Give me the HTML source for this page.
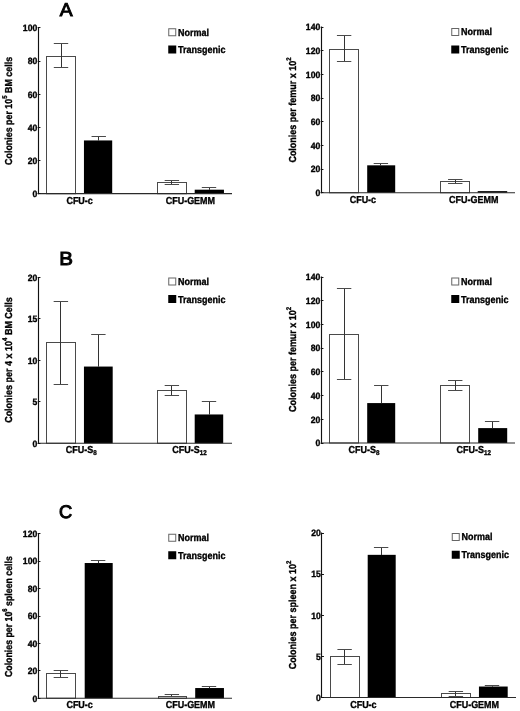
<!DOCTYPE html>
<html><head><meta charset="utf-8"><title>Figure</title>
<style>
html,body{margin:0;padding:0;background:#fff;}
body{width:520px;height:711px;overflow:hidden;}
svg{display:block;filter:blur(0.35px);font-family:"Liberation Sans",sans-serif;font-weight:bold;fill:#000;}
text{stroke:#000;stroke-width:0.35px;text-rendering:geometricPrecision;}
text.big{font-weight:normal;stroke-width:1px;}
</style></head><body>
<svg width="520" height="711" viewBox="0 0 520 711">
<rect x="0" y="0" width="520" height="711" fill="#fff" stroke="none"/>
<rect x="46.5" y="56.5" width="29" height="137.2" fill="#fff" stroke="#4a4a4a" stroke-width="1"/>
<line x1="61.5" y1="43.98" x2="61.5" y2="67.69" stroke="#333" stroke-width="1"/>
<line x1="53.8" y1="43.5" x2="68.2" y2="43.5" stroke="#4a4a4a" stroke-width="1"/>
<line x1="53.8" y1="67.5" x2="68.2" y2="67.5" stroke="#4a4a4a" stroke-width="1"/>
<rect x="83.95" y="140.44" width="28.25" height="53.26" fill="#000" stroke="none" stroke-width="0"/>
<line x1="98.5" y1="136.17" x2="98.5" y2="140.64" stroke="#333" stroke-width="1"/>
<line x1="91.55" y1="136.5" x2="105.95" y2="136.5" stroke="#4a4a4a" stroke-width="1"/>
<rect x="157.5" y="182.5" width="29" height="11.2" fill="#fff" stroke="#4a4a4a" stroke-width="1"/>
<line x1="171.5" y1="180.93" x2="171.5" y2="184.58" stroke="#333" stroke-width="1"/>
<line x1="164.68" y1="180.5" x2="179.07" y2="180.5" stroke="#4a4a4a" stroke-width="1"/>
<line x1="164.68" y1="184.5" x2="179.07" y2="184.5" stroke="#4a4a4a" stroke-width="1"/>
<rect x="194.7" y="189.69" width="29.25" height="4.01" fill="#000" stroke="none" stroke-width="0"/>
<line x1="209.5" y1="187.9" x2="209.5" y2="189.89" stroke="#333" stroke-width="1"/>
<line x1="201.8" y1="187.5" x2="216.2" y2="187.5" stroke="#4a4a4a" stroke-width="1"/>
<line x1="38.5" y1="27.4" x2="38.5" y2="194.2" stroke="#111" stroke-width="1.15"/>
<line x1="37.75" y1="193.7" x2="232" y2="193.7" stroke="#2a2a2a" stroke-width="1.2"/>
<line x1="37.75" y1="193.5" x2="40.45" y2="193.5" stroke="#111" stroke-width="1"/>
<text transform="translate(37.25 197) scale(0.94 1)" font-size="9.2" text-anchor="end">0</text>
<line x1="37.75" y1="160.5" x2="40.45" y2="160.5" stroke="#111" stroke-width="1"/>
<text transform="translate(37.25 163.84) scale(0.94 1)" font-size="9.2" text-anchor="end">20</text>
<line x1="37.75" y1="127.5" x2="40.45" y2="127.5" stroke="#111" stroke-width="1"/>
<text transform="translate(37.25 130.68) scale(0.94 1)" font-size="9.2" text-anchor="end">40</text>
<line x1="37.75" y1="94.5" x2="40.45" y2="94.5" stroke="#111" stroke-width="1"/>
<text transform="translate(37.25 97.52) scale(0.94 1)" font-size="9.2" text-anchor="end">60</text>
<line x1="37.75" y1="61.5" x2="40.45" y2="61.5" stroke="#111" stroke-width="1"/>
<text transform="translate(37.25 64.36) scale(0.94 1)" font-size="9.2" text-anchor="end">80</text>
<line x1="37.75" y1="27.5" x2="40.45" y2="27.5" stroke="#111" stroke-width="1"/>
<text transform="translate(37.25 31.2) scale(0.94 1)" font-size="9.2" text-anchor="end">100</text>
<text transform="translate(79.62 203.7) scale(0.89 1)" font-size="10.1" text-anchor="middle">CFU-c</text>
<text transform="translate(190.38 203.7) scale(0.89 1)" font-size="10.1" text-anchor="middle">CFU-GEMM</text>
<text transform="translate(11.8 110.9) rotate(-90) scale(0.88 1)" font-size="10.1" text-anchor="middle">Colonies per 10<tspan font-size="6.8" dy="-5.3">5</tspan><tspan dy="5.3"> </tspan>BM cells</text>
<rect x="168.75" y="28.75" width="7" height="7" fill="#fff" stroke="#666" stroke-width="1"/>
<rect x="168.25" y="45.5" width="8" height="8" fill="#000" stroke="#000" stroke-width="0"/>
<text transform="translate(177.95 35.55) scale(0.89 1)" font-size="10.1" text-anchor="start">Normal</text>
<text transform="translate(178.05 53.1) scale(0.89 1)" font-size="10.1" text-anchor="start">Transgenic</text>
<text class="big" transform="translate(66.1 15.5) scale(1.03 1)" font-size="18.7" text-anchor="middle">A</text>
<rect x="329.5" y="49.5" width="29" height="143.25" fill="#fff" stroke="#4a4a4a" stroke-width="1"/>
<line x1="344.5" y1="35.52" x2="344.5" y2="61.93" stroke="#333" stroke-width="1"/>
<line x1="336.93" y1="35.5" x2="351.32" y2="35.5" stroke="#4a4a4a" stroke-width="1"/>
<line x1="336.93" y1="61.5" x2="351.32" y2="61.5" stroke="#4a4a4a" stroke-width="1"/>
<rect x="367.2" y="165.32" width="28" height="27.43" fill="#000" stroke="none" stroke-width="0"/>
<line x1="380.5" y1="163.51" x2="380.5" y2="165.52" stroke="#333" stroke-width="1"/>
<line x1="373.68" y1="163.5" x2="388.07" y2="163.5" stroke="#4a4a4a" stroke-width="1"/>
<rect x="440.5" y="181.5" width="29" height="11.25" fill="#fff" stroke="#4a4a4a" stroke-width="1"/>
<line x1="455.5" y1="179.49" x2="455.5" y2="183.04" stroke="#333" stroke-width="1"/>
<line x1="448.05" y1="179.5" x2="462.45" y2="179.5" stroke="#4a4a4a" stroke-width="1"/>
<line x1="448.05" y1="183.5" x2="462.45" y2="183.5" stroke="#4a4a4a" stroke-width="1"/>
<rect x="477.7" y="191.13" width="29.5" height="1.62" fill="#000" stroke="none" stroke-width="0"/>
<line x1="321.5" y1="26.5" x2="321.5" y2="193.25" stroke="#111" stroke-width="1.15"/>
<line x1="320.75" y1="192.75" x2="515" y2="192.75" stroke="#2a2a2a" stroke-width="1.2"/>
<line x1="320.75" y1="192.5" x2="323.45" y2="192.5" stroke="#111" stroke-width="1"/>
<text transform="translate(320.25 196.05) scale(0.94 1)" font-size="9.2" text-anchor="end">0</text>
<line x1="320.75" y1="169.5" x2="323.45" y2="169.5" stroke="#111" stroke-width="1"/>
<text transform="translate(320.25 172.37) scale(0.94 1)" font-size="9.2" text-anchor="end">20</text>
<line x1="320.75" y1="145.5" x2="323.45" y2="145.5" stroke="#111" stroke-width="1"/>
<text transform="translate(320.25 148.69) scale(0.94 1)" font-size="9.2" text-anchor="end">40</text>
<line x1="320.75" y1="121.5" x2="323.45" y2="121.5" stroke="#111" stroke-width="1"/>
<text transform="translate(320.25 125.01) scale(0.94 1)" font-size="9.2" text-anchor="end">60</text>
<line x1="320.75" y1="98.5" x2="323.45" y2="98.5" stroke="#111" stroke-width="1"/>
<text transform="translate(320.25 101.34) scale(0.94 1)" font-size="9.2" text-anchor="end">80</text>
<line x1="320.75" y1="74.5" x2="323.45" y2="74.5" stroke="#111" stroke-width="1"/>
<text transform="translate(320.25 77.66) scale(0.94 1)" font-size="9.2" text-anchor="end">100</text>
<line x1="320.75" y1="50.5" x2="323.45" y2="50.5" stroke="#111" stroke-width="1"/>
<text transform="translate(320.25 53.98) scale(0.94 1)" font-size="9.2" text-anchor="end">120</text>
<line x1="320.75" y1="27.5" x2="323.45" y2="27.5" stroke="#111" stroke-width="1"/>
<text transform="translate(320.25 30.3) scale(0.94 1)" font-size="9.2" text-anchor="end">140</text>
<text transform="translate(362.88 202.75) scale(0.89 1)" font-size="10.1" text-anchor="middle">CFU-c</text>
<text transform="translate(473.75 202.75) scale(0.89 1)" font-size="10.1" text-anchor="middle">CFU-GEMM</text>
<text transform="translate(296 110) rotate(-90) scale(0.89 1)" font-size="10.1" text-anchor="middle">Colonies per femur x 10<tspan font-size="6.8" dy="-5.3">2</tspan><tspan dy="5.3"> </tspan></text>
<rect x="451.75" y="28.5" width="7" height="7" fill="#fff" stroke="#666" stroke-width="1"/>
<rect x="451.25" y="45.5" width="8" height="8" fill="#000" stroke="#000" stroke-width="0"/>
<text transform="translate(460.95 35.3) scale(0.89 1)" font-size="10.1" text-anchor="start">Normal</text>
<text transform="translate(461.05 53.1) scale(0.89 1)" font-size="10.1" text-anchor="start">Transgenic</text>
<rect x="46.5" y="342.5" width="29" height="100.75" fill="#fff" stroke="#4a4a4a" stroke-width="1"/>
<line x1="60.5" y1="301.78" x2="60.5" y2="384.41" stroke="#333" stroke-width="1"/>
<line x1="53.67" y1="301.5" x2="68.08" y2="301.5" stroke="#4a4a4a" stroke-width="1"/>
<line x1="53.67" y1="384.5" x2="68.08" y2="384.5" stroke="#4a4a4a" stroke-width="1"/>
<rect x="83.95" y="366.56" width="28.75" height="76.69" fill="#000" stroke="none" stroke-width="0"/>
<line x1="98.5" y1="334.02" x2="98.5" y2="366.76" stroke="#333" stroke-width="1"/>
<line x1="91.17" y1="334.5" x2="105.58" y2="334.5" stroke="#4a4a4a" stroke-width="1"/>
<rect x="157.5" y="390.5" width="29" height="52.75" fill="#fff" stroke="#4a4a4a" stroke-width="1"/>
<line x1="171.5" y1="385.49" x2="171.5" y2="395.18" stroke="#333" stroke-width="1"/>
<line x1="164.68" y1="385.5" x2="179.07" y2="385.5" stroke="#4a4a4a" stroke-width="1"/>
<line x1="164.68" y1="395.5" x2="179.07" y2="395.5" stroke="#4a4a4a" stroke-width="1"/>
<rect x="194.7" y="414.46" width="28.5" height="28.79" fill="#000" stroke="none" stroke-width="0"/>
<line x1="209.5" y1="401.23" x2="209.5" y2="414.66" stroke="#333" stroke-width="1"/>
<line x1="201.8" y1="401.5" x2="216.2" y2="401.5" stroke="#4a4a4a" stroke-width="1"/>
<line x1="38.5" y1="277" x2="38.5" y2="443.75" stroke="#111" stroke-width="1.15"/>
<line x1="37.75" y1="443.25" x2="232" y2="443.25" stroke="#2a2a2a" stroke-width="1.2"/>
<line x1="37.75" y1="443.5" x2="40.45" y2="443.5" stroke="#111" stroke-width="1"/>
<text transform="translate(37.25 446.55) scale(0.94 1)" font-size="9.2" text-anchor="end">0</text>
<line x1="37.75" y1="401.5" x2="40.45" y2="401.5" stroke="#111" stroke-width="1"/>
<text transform="translate(37.25 405.11) scale(0.94 1)" font-size="9.2" text-anchor="end">5</text>
<line x1="37.75" y1="360.5" x2="40.45" y2="360.5" stroke="#111" stroke-width="1"/>
<text transform="translate(37.25 363.68) scale(0.94 1)" font-size="9.2" text-anchor="end">10</text>
<line x1="37.75" y1="318.5" x2="40.45" y2="318.5" stroke="#111" stroke-width="1"/>
<text transform="translate(37.25 322.24) scale(0.94 1)" font-size="9.2" text-anchor="end">15</text>
<line x1="37.75" y1="277.5" x2="40.45" y2="277.5" stroke="#111" stroke-width="1"/>
<text transform="translate(37.25 280.8) scale(0.94 1)" font-size="9.2" text-anchor="end">20</text>
<text transform="translate(81.25 453.25) scale(0.89 1)" font-size="10.1" text-anchor="middle">CFU-S<tspan font-size="7" dy="2">8</tspan></text>
<text transform="translate(189.5 453.25) scale(0.89 1)" font-size="10.1" text-anchor="middle">CFU-S<tspan font-size="7" dy="2">12</tspan></text>
<text transform="translate(12 360) rotate(-90) scale(0.89 1)" font-size="10.1" text-anchor="middle">Colonies per 4 x 10<tspan font-size="6.8" dy="-5.3">4</tspan><tspan dy="5.3"> </tspan>BM Cells</text>
<rect x="168.75" y="278" width="7" height="7" fill="#fff" stroke="#666" stroke-width="1"/>
<rect x="168.25" y="295" width="8" height="8" fill="#000" stroke="#000" stroke-width="0"/>
<text transform="translate(177.95 284.8) scale(0.89 1)" font-size="10.1" text-anchor="start">Normal</text>
<text transform="translate(178.05 302.6) scale(0.89 1)" font-size="10.1" text-anchor="start">Transgenic</text>
<text class="big" transform="translate(66.2 264.8) scale(1.08 1)" font-size="19" text-anchor="middle">B</text>
<rect x="329.5" y="334.5" width="29" height="108.5" fill="#fff" stroke="#4a4a4a" stroke-width="1"/>
<line x1="344.5" y1="288.98" x2="344.5" y2="379.56" stroke="#333" stroke-width="1"/>
<line x1="336.93" y1="288.5" x2="351.32" y2="288.5" stroke="#4a4a4a" stroke-width="1"/>
<line x1="336.93" y1="379.5" x2="351.32" y2="379.5" stroke="#4a4a4a" stroke-width="1"/>
<rect x="367.2" y="403.08" width="28" height="39.92" fill="#000" stroke="none" stroke-width="0"/>
<line x1="381.5" y1="385.73" x2="381.5" y2="403.28" stroke="#333" stroke-width="1"/>
<line x1="374.05" y1="385.5" x2="388.45" y2="385.5" stroke="#4a4a4a" stroke-width="1"/>
<rect x="440.5" y="385.5" width="29" height="57.5" fill="#fff" stroke="#4a4a4a" stroke-width="1"/>
<line x1="455.5" y1="380.51" x2="455.5" y2="390.47" stroke="#333" stroke-width="1"/>
<line x1="448.05" y1="380.5" x2="462.45" y2="380.5" stroke="#4a4a4a" stroke-width="1"/>
<line x1="448.05" y1="390.5" x2="462.45" y2="390.5" stroke="#4a4a4a" stroke-width="1"/>
<rect x="478.2" y="428.1" width="29" height="14.9" fill="#000" stroke="none" stroke-width="0"/>
<line x1="492.5" y1="421.78" x2="492.5" y2="428.3" stroke="#333" stroke-width="1"/>
<line x1="484.93" y1="421.5" x2="499.32" y2="421.5" stroke="#4a4a4a" stroke-width="1"/>
<line x1="321.5" y1="276.5" x2="321.5" y2="443.5" stroke="#111" stroke-width="1.15"/>
<line x1="320.75" y1="443" x2="515" y2="443" stroke="#2a2a2a" stroke-width="1.2"/>
<line x1="320.75" y1="443.5" x2="323.45" y2="443.5" stroke="#111" stroke-width="1"/>
<text transform="translate(320.25 446.3) scale(0.94 1)" font-size="9.2" text-anchor="end">0</text>
<line x1="320.75" y1="419.5" x2="323.45" y2="419.5" stroke="#111" stroke-width="1"/>
<text transform="translate(320.25 422.59) scale(0.94 1)" font-size="9.2" text-anchor="end">20</text>
<line x1="320.75" y1="395.5" x2="323.45" y2="395.5" stroke="#111" stroke-width="1"/>
<text transform="translate(320.25 398.87) scale(0.94 1)" font-size="9.2" text-anchor="end">40</text>
<line x1="320.75" y1="371.5" x2="323.45" y2="371.5" stroke="#111" stroke-width="1"/>
<text transform="translate(320.25 375.16) scale(0.94 1)" font-size="9.2" text-anchor="end">60</text>
<line x1="320.75" y1="348.5" x2="323.45" y2="348.5" stroke="#111" stroke-width="1"/>
<text transform="translate(320.25 351.44) scale(0.94 1)" font-size="9.2" text-anchor="end">80</text>
<line x1="320.75" y1="324.5" x2="323.45" y2="324.5" stroke="#111" stroke-width="1"/>
<text transform="translate(320.25 327.73) scale(0.94 1)" font-size="9.2" text-anchor="end">100</text>
<line x1="320.75" y1="300.5" x2="323.45" y2="300.5" stroke="#111" stroke-width="1"/>
<text transform="translate(320.25 304.01) scale(0.94 1)" font-size="9.2" text-anchor="end">120</text>
<line x1="320.75" y1="277.5" x2="323.45" y2="277.5" stroke="#111" stroke-width="1"/>
<text transform="translate(320.25 280.3) scale(0.94 1)" font-size="9.2" text-anchor="end">140</text>
<text transform="translate(364 453) scale(0.89 1)" font-size="10.1" text-anchor="middle">CFU-S<tspan font-size="7" dy="2">8</tspan></text>
<text transform="translate(473.75 453) scale(0.89 1)" font-size="10.1" text-anchor="middle">CFU-S<tspan font-size="7" dy="2">12</tspan></text>
<text transform="translate(296 359.4) rotate(-90) scale(0.89 1)" font-size="10.1" text-anchor="middle">Colonies per femur x 10<tspan font-size="6.8" dy="-5.3">2</tspan><tspan dy="5.3"> </tspan></text>
<rect x="451.75" y="278" width="7" height="7" fill="#fff" stroke="#666" stroke-width="1"/>
<rect x="451.25" y="295" width="8" height="8" fill="#000" stroke="#000" stroke-width="0"/>
<text transform="translate(460.95 284.8) scale(0.89 1)" font-size="10.1" text-anchor="start">Normal</text>
<text transform="translate(461.05 302.6) scale(0.89 1)" font-size="10.1" text-anchor="start">Transgenic</text>
<rect x="46.5" y="673.5" width="29" height="24.75" fill="#fff" stroke="#4a4a4a" stroke-width="1"/>
<line x1="60.5" y1="670.7" x2="60.5" y2="677" stroke="#333" stroke-width="1"/>
<line x1="53.67" y1="670.5" x2="68.08" y2="670.5" stroke="#4a4a4a" stroke-width="1"/>
<line x1="53.67" y1="677.5" x2="68.08" y2="677.5" stroke="#4a4a4a" stroke-width="1"/>
<rect x="84.7" y="563.02" width="28" height="135.23" fill="#000" stroke="none" stroke-width="0"/>
<line x1="98.5" y1="560.48" x2="98.5" y2="563.22" stroke="#333" stroke-width="1"/>
<line x1="90.92" y1="560.5" x2="105.33" y2="560.5" stroke="#4a4a4a" stroke-width="1"/>
<rect x="158.5" y="696.5" width="28" height="1.75" fill="#fff" stroke="#4a4a4a" stroke-width="1"/>
<line x1="171.5" y1="694.55" x2="171.5" y2="696.19" stroke="#333" stroke-width="1"/>
<line x1="164.68" y1="694.5" x2="179.07" y2="694.5" stroke="#4a4a4a" stroke-width="1"/>
<rect x="195.2" y="688.04" width="28.75" height="10.21" fill="#000" stroke="none" stroke-width="0"/>
<line x1="209.5" y1="686.74" x2="209.5" y2="688.24" stroke="#333" stroke-width="1"/>
<line x1="201.8" y1="686.5" x2="216.2" y2="686.5" stroke="#4a4a4a" stroke-width="1"/>
<line x1="38.5" y1="533.25" x2="38.5" y2="698.75" stroke="#111" stroke-width="1.15"/>
<line x1="37.75" y1="698.25" x2="232" y2="698.25" stroke="#2a2a2a" stroke-width="1.2"/>
<line x1="37.75" y1="698.5" x2="40.45" y2="698.5" stroke="#111" stroke-width="1"/>
<text transform="translate(37.25 701.55) scale(0.94 1)" font-size="9.2" text-anchor="end">0</text>
<line x1="37.75" y1="670.5" x2="40.45" y2="670.5" stroke="#111" stroke-width="1"/>
<text transform="translate(37.25 674.13) scale(0.94 1)" font-size="9.2" text-anchor="end">20</text>
<line x1="37.75" y1="643.5" x2="40.45" y2="643.5" stroke="#111" stroke-width="1"/>
<text transform="translate(37.25 646.72) scale(0.94 1)" font-size="9.2" text-anchor="end">40</text>
<line x1="37.75" y1="616.5" x2="40.45" y2="616.5" stroke="#111" stroke-width="1"/>
<text transform="translate(37.25 619.3) scale(0.94 1)" font-size="9.2" text-anchor="end">60</text>
<line x1="37.75" y1="588.5" x2="40.45" y2="588.5" stroke="#111" stroke-width="1"/>
<text transform="translate(37.25 591.88) scale(0.94 1)" font-size="9.2" text-anchor="end">80</text>
<line x1="37.75" y1="561.5" x2="40.45" y2="561.5" stroke="#111" stroke-width="1"/>
<text transform="translate(37.25 564.47) scale(0.94 1)" font-size="9.2" text-anchor="end">100</text>
<line x1="37.75" y1="533.5" x2="40.45" y2="533.5" stroke="#111" stroke-width="1"/>
<text transform="translate(37.25 537.05) scale(0.94 1)" font-size="9.2" text-anchor="end">120</text>
<text transform="translate(79.62 708.25) scale(0.89 1)" font-size="10.1" text-anchor="middle">CFU-c</text>
<text transform="translate(190.38 708.25) scale(0.89 1)" font-size="10.1" text-anchor="middle">CFU-GEMM</text>
<text transform="translate(12 616.6) rotate(-90) scale(0.87 1)" font-size="10.1" text-anchor="middle">Colonies per 10<tspan font-size="6.8" dy="-5.3">6</tspan><tspan dy="5.3"> </tspan>spleen cells</text>
<rect x="168.75" y="534.25" width="7" height="7" fill="#fff" stroke="#666" stroke-width="1"/>
<rect x="168.25" y="551.25" width="8" height="8" fill="#000" stroke="#000" stroke-width="0"/>
<text transform="translate(177.95 541.05) scale(0.89 1)" font-size="10.1" text-anchor="start">Normal</text>
<text transform="translate(178.05 558.85) scale(0.89 1)" font-size="10.1" text-anchor="start">Transgenic</text>
<text class="big" transform="translate(65.6 518.1) scale(1.0 1)" font-size="18.3" text-anchor="middle">C</text>
<rect x="330.5" y="656.5" width="29" height="41" fill="#fff" stroke="#4a4a4a" stroke-width="1"/>
<line x1="344.5" y1="649.22" x2="344.5" y2="664.19" stroke="#333" stroke-width="1"/>
<line x1="337.43" y1="649.5" x2="351.82" y2="649.5" stroke="#4a4a4a" stroke-width="1"/>
<line x1="337.43" y1="664.5" x2="351.82" y2="664.5" stroke="#4a4a4a" stroke-width="1"/>
<rect x="367.7" y="554.84" width="28" height="142.66" fill="#000" stroke="none" stroke-width="0"/>
<line x1="381.5" y1="547.48" x2="381.5" y2="555.04" stroke="#333" stroke-width="1"/>
<line x1="373.93" y1="547.5" x2="388.32" y2="547.5" stroke="#4a4a4a" stroke-width="1"/>
<rect x="441.5" y="693.5" width="29" height="4" fill="#fff" stroke="#4a4a4a" stroke-width="1"/>
<line x1="455.5" y1="691.25" x2="455.5" y2="696.68" stroke="#333" stroke-width="1"/>
<line x1="448.68" y1="691.5" x2="463.07" y2="691.5" stroke="#4a4a4a" stroke-width="1"/>
<line x1="448.68" y1="696.5" x2="463.07" y2="696.5" stroke="#4a4a4a" stroke-width="1"/>
<rect x="478.95" y="686.53" width="28.75" height="10.97" fill="#000" stroke="none" stroke-width="0"/>
<line x1="492.5" y1="685.49" x2="492.5" y2="686.73" stroke="#333" stroke-width="1"/>
<line x1="484.8" y1="685.5" x2="499.2" y2="685.5" stroke="#4a4a4a" stroke-width="1"/>
<line x1="321.5" y1="532.5" x2="321.5" y2="698" stroke="#111" stroke-width="1.15"/>
<line x1="321.25" y1="697.5" x2="516" y2="697.5" stroke="#2a2a2a" stroke-width="1.2"/>
<line x1="321.25" y1="697.5" x2="323.95" y2="697.5" stroke="#111" stroke-width="1"/>
<text transform="translate(320.75 700.8) scale(0.94 1)" font-size="9.2" text-anchor="end">0</text>
<line x1="321.25" y1="656.5" x2="323.95" y2="656.5" stroke="#111" stroke-width="1"/>
<text transform="translate(320.75 659.67) scale(0.94 1)" font-size="9.2" text-anchor="end">5</text>
<line x1="321.25" y1="615.5" x2="323.95" y2="615.5" stroke="#111" stroke-width="1"/>
<text transform="translate(320.75 618.55) scale(0.94 1)" font-size="9.2" text-anchor="end">10</text>
<line x1="321.25" y1="574.5" x2="323.95" y2="574.5" stroke="#111" stroke-width="1"/>
<text transform="translate(320.75 577.42) scale(0.94 1)" font-size="9.2" text-anchor="end">15</text>
<line x1="321.25" y1="533.5" x2="323.95" y2="533.5" stroke="#111" stroke-width="1"/>
<text transform="translate(320.75 536.3) scale(0.94 1)" font-size="9.2" text-anchor="end">20</text>
<text transform="translate(363.38 707.5) scale(0.89 1)" font-size="10.1" text-anchor="middle">CFU-c</text>
<text transform="translate(474.38 707.5) scale(0.89 1)" font-size="10.1" text-anchor="middle">CFU-GEMM</text>
<text transform="translate(296 615) rotate(-90) scale(0.89 1)" font-size="10.1" text-anchor="middle">Colonies per spleen x 10<tspan font-size="6.8" dy="-5.3">2</tspan><tspan dy="5.3"> </tspan></text>
<rect x="452.25" y="533.5" width="7" height="7" fill="#fff" stroke="#666" stroke-width="1"/>
<rect x="451.75" y="550.75" width="8" height="8" fill="#000" stroke="#000" stroke-width="0"/>
<text transform="translate(461.45 540.3) scale(0.89 1)" font-size="10.1" text-anchor="start">Normal</text>
<text transform="translate(461.55 558.35) scale(0.89 1)" font-size="10.1" text-anchor="start">Transgenic</text>
</svg>
</body></html>
